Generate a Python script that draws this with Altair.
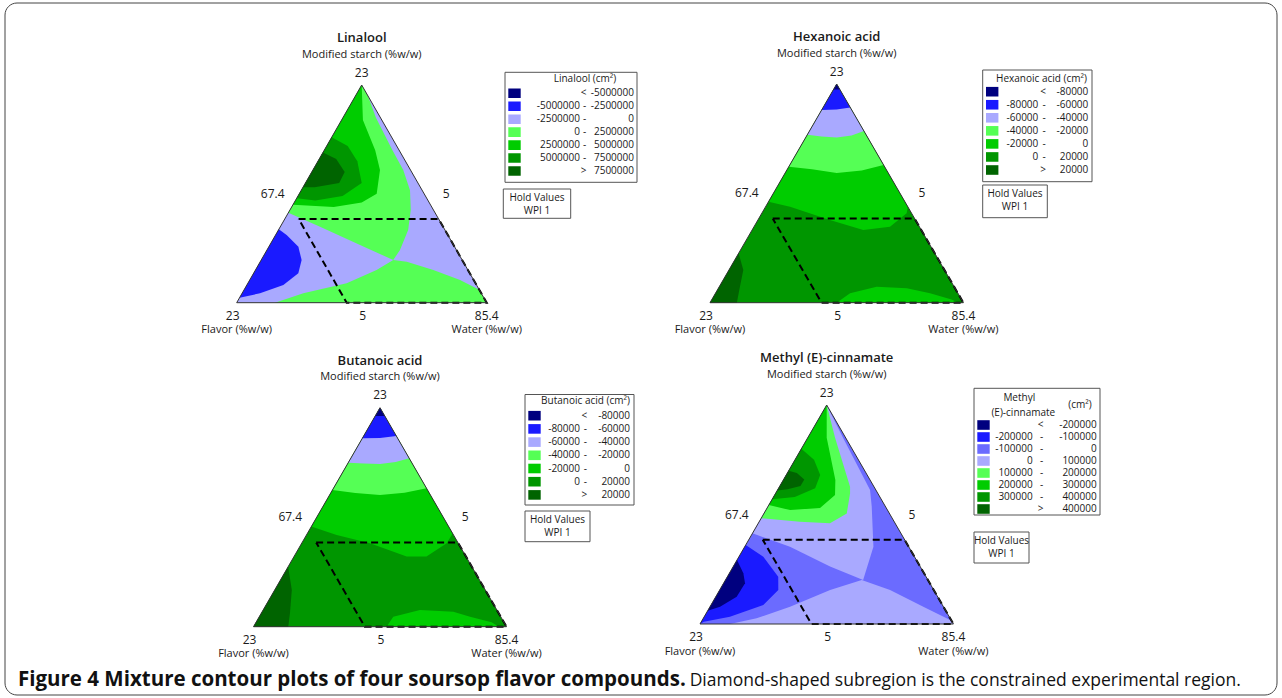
import altair as alt
import pandas as pd

W, H = 1282, 698
FONT = "Open Sans"

# contour band colours
BAND_COLORS = {
    "navy": "#00007f", "blue": "#1a1aff", "mblue": "#6b6bff", "lav": "#a9a9ff",
    "lgreen": "#55ff55", "green": "#00cc00", "mgreen": "#009600", "dgreen": "#006400",
}

# ternary panels: apex x, apex y, base y, half width of the base (px)
PANELS = {
    "lin": dict(cx=361.7, top=85.0, base=302.7, hw=125.0),
    "hex": dict(cx=836.7, top=84.0, base=302.7, hw=126.7),
    "but": dict(cx=380.0, top=407.7, base=626.7, hw=126.5),
    "met": dict(cx=826.7, top=405.0, base=624.0, hw=126.7),
}

TITLES = {"lin": "Linalool", "hex": "Hexanoic acid", "but": "Butanoic acid",
          "met": "Methyl (E)-cinnamate"}

# vertex / mid-side labels of every ternary frame
APEX_LABEL = "23"
LEFT_SIDE_LABEL = "67.4"
RIGHT_SIDE_LABEL = "5"
BASE_LEFT_LABEL = "23"
BASE_MID_LABEL = "5"
BASE_RIGHT_LABEL = "85.4"
TOP_AXIS = "Modified starch (%w/w)"
LEFT_AXIS = "Flavor (%w/w)"
RIGHT_AXIS = "Water (%w/w)"

# Contour bands.  Each point is (starch, water share): starch is the pseudo-component
# fraction of modified starch, water share is water / (water + flavor).
# The first entry of each list is the band filling the whole simplex, later bands are
# painted over it in order.
CONTOURS = {
    "lin": [
        ("lav", [(0, 0), (1, 0.5), (0, 1)]),
        ("lgreen", [(0.413, 0), (1, 0.5), (0.95, 1), (0.85, 0.88), (0.7, 0.91), (0.609, 0.925),
                    (0.517, 0.90), (0.426, 0.842), (0.334, 0.779), (0.242, 0.702), (0.196, 0.657),
                    (0.265, 0.491), (0.349, 0.244)]),
        ("lgreen", [(0.196, 0.657), (0.188, 0.722), (0.15, 0.837), (0.104, 0.939), (0.06, 1),
                    (0, 1), (0, 0.153), (0.043, 0.256), (0.089, 0.434), (0.15, 0.57)]),
        ("blue", [(0.337, 0), (0.311, 0.064), (0.257, 0.159), (0.196, 0.201), (0.135, 0.207),
                  (0.081, 0.159), (0.043, 0.075), (0.023, 0)]),
        ("green", [(0.45, 0), (0.44, 0.3), (0.46, 0.5), (0.5, 0.62), (0.609, 0.687), (0.7, 0.68),
                   (0.839, 0.53), (1, 0.5)]),
        ("mgreen", [(0.76, 0), (0.72, 0.3), (0.65, 0.45), (0.55, 0.5), (0.49, 0.35), (0.47, 0.15),
                    (0.48, 0)]),
        ("dgreen", [(0.69, 0), (0.66, 0.2), (0.6, 0.33), (0.55, 0.3), (0.53, 0.1), (0.53, 0)]),
    ],
    "hex": [
        ("mgreen", [(0, 0), (1, 0.5), (0, 1)]),
        ("green", [(0.462, 0), (0.439, 0.172), (0.378, 0.457), (0.332, 0.657), (0.347, 0.822),
                   (0.409, 0.967), (0.439, 1), (1, 0.5)]),
        ("lgreen", [(0.622, 0), (0.61, 0.25), (0.593, 0.5), (0.605, 0.75), (0.63, 1), (1, 0.5)]),
        ("lav", [(0.768, 0), (0.76, 0.25), (0.755, 0.5), (0.765, 0.75), (0.785, 1), (1, 0.5)]),
        ("blue", [(0.881, 0), (0.883, 0.5), (0.893, 1), (1, 0.5)]),
        ("navy", [(0.975, 0), (0.975, 1), (1, 0.5)]),
        ("green", [(0, 0.5), (0.043, 0.555), (0.073, 0.67), (0.066, 0.796), (0.043, 0.885),
                   (0.015, 0.96), (0, 0.98)]),
        ("dgreen", [(0.226, 0), (0.149, 0.067), (0.073, 0.088), (0, 0.106), (0, 0)]),
    ],
    "but": [
        ("mgreen", [(0, 0), (1, 0.5), (0, 1)]),
        ("green", [(0.457, 0), (0.419, 0.205), (0.381, 0.436), (0.32, 0.655), (0.32, 0.77),
                   (0.381, 0.926), (0.426, 1), (1, 0.5)]),
        ("lgreen", [(0.624, 0), (0.61, 0.25), (0.601, 0.5), (0.612, 0.75), (0.632, 1), (1, 0.5)]),
        ("lav", [(0.749, 0), (0.745, 0.25), (0.743, 0.5), (0.752, 0.75), (0.769, 1), (1, 0.5)]),
        ("blue", [(0.86, 0), (0.862, 0.5), (0.871, 1), (1, 0.5)]),
        ("navy", [(0.962, 0), (0.962, 1), (1, 0.5)]),
        ("green", [(0, 0.526), (0.046, 0.555), (0.076, 0.671), (0.068, 0.811), (0.046, 0.873),
                   (0.02, 0.95), (0, 0.97)]),
        ("dgreen", [(0.274, 0), (0.168, 0.081), (0.061, 0.121), (0, 0.1375), (0, 0)]),
    ],
    "met": [
        ("mblue", [(0, 0), (1, 0.5), (0, 1)]),
        ("lav", [(0.414, 0), (1, 0.5), (0.95, 0.93), (0.85, 0.93), (0.612, 0.941), (0.536, 0.883),
                 (0.353, 0.785), (0.201, 0.68), (0.262, 0.518), (0.353, 0.276)]),
        ("lav", [(0.201, 0.673), (0.155, 0.796), (0.079, 0.914), (0.018, 0.996), (0, 1),
                 (0, 0.118), (0.026, 0.216), (0.079, 0.343), (0.155, 0.516)]),
        ("blue", [(0.361, 0), (0.307, 0.139), (0.216, 0.256), (0.155, 0.274), (0.087, 0.226),
                  (0.033, 0.105), (0.0105, 0.01), (0, 0)]),
        ("navy", [(0.292, 0), (0.2315, 0.072), (0.186, 0.104), (0.125, 0.094), (0.079, 0.043),
                  (0.06, 0)]),
        ("lgreen", [(0.483, 0), (0.467, 0.302), (0.46, 0.524), (0.505, 0.66), (0.597, 0.729),
                    (0.627, 0.747), (0.85, 0.72), (1, 0.5)]),
        ("green", [(0.543, 0), (0.52, 0.2), (0.53, 0.444), (0.589, 0.58), (0.658, 0.6),
                   (0.85, 0.5), (1, 0.5)]),
        ("mgreen", [(0.8, 0), (0.75, 0.3), (0.68, 0.42), (0.62, 0.38), (0.58, 0.2), (0.57, 0)]),
        ("dgreen", [(0.7, 0), (0.69, 0.12), (0.66, 0.24), (0.63, 0.22), (0.615, 0.1), (0.61, 0)]),
    ],
}

# constrained experimental region, as (starch, flavor) fractions
SUBREGION = [(0.385, 0.56), (0.385, 0.0), (0.0, 0.0), (0.0, 0.56), (0.385, 0.56)]

# legends: band colours (low to high) and class limits
LEGEND_BANDS = {
    "lin": ["navy", "blue", "lav", "lgreen", "green", "mgreen", "dgreen"],
    "hex": ["navy", "blue", "lav", "lgreen", "green", "mgreen", "dgreen"],
    "but": ["navy", "blue", "lav", "lgreen", "green", "mgreen", "dgreen"],
    "met": ["navy", "blue", "mblue", "lav", "lgreen", "green", "mgreen", "dgreen"],
}
LEGEND_LIMITS = {
    "lin": [-5000000, -2500000, 0, 2500000, 5000000, 7500000],
    "hex": [-80000, -60000, -40000, -20000, 0, 20000],
    "but": [-80000, -60000, -40000, -20000, 0, 20000],
    "met": [-200000, -100000, 0, 100000, 200000, 300000, 400000],
}
LEGEND_TITLES = {
    "lin": ["Linalool (cm²)"], "hex": ["Hexanoic acid (cm²)"], "but": ["Butanoic acid (cm²)"],
    "met": ["Methyl", "(E)-cinnamate"],
}
HOLD_TEXT = ["Hold Values", "WPI  1"]

CAPTION_BOLD = "Figure 4 Mixture contour plots of four soursop flavor compounds."
CAPTION_REST = "Diamond-shaped subregion is the constrained experimental region."

# legend layout (px): box, first row, row step, column anchors, title anchors, hold box
LEGEND_LAYOUT = {
    "lin": dict(box=(505, 72.3, 637, 182.3), row0=93.3, step=12.95, left=580, dash=584.5,
                right=634, titles=[(585, 79)], hold=(503.3, 189, 570.7, 218.3)),
    "hex": dict(box=(982.7, 70, 1092, 181.7), row0=91.7, step=13.05, left=1038.3, dash=1044,
                right=1088.3, titles=[(1041.5, 79)], hold=(982.7, 185, 1047.3, 217.7)),
    "but": dict(box=(525, 394.5, 634, 505), row0=415.7, step=13.2, left=580, dash=585.3,
                right=630, titles=[(585.5, 401)], hold=(525, 511, 590, 541.7)),
    "met": dict(box=(974, 388.3, 1100, 515), row0=425, step=12.0, left=1032.7, dash=1041.7,
                right=1096.7, titles=[(1019.3, 398.3), (1023.3, 412.7)], unit=(1080, 405),
                hold=(974, 532, 1029, 563)),
}

# caption type sizes; the regular part follows the bold one on the same line
CAPTION_BOLD_SIZE = 20.5
CAPTION_REST_SIZE = 17.5
BOLD_EM_WIDTH = 32.47  # width of the bold caption in em of Open Sans Bold


def to_xy(p, starch, share):
    """Pixel position of a mixture point inside panel p."""
    width = 2 * p["hw"] * (1 - starch)
    x = p["cx"] - p["hw"] * (1 - starch) + width * share
    y = p["base"] - starch * (p["base"] - p["top"])
    return x, y


# ---------- polygons of the contour bands ----------
poly_rows = []
for key, regions in CONTOURS.items():
    p = PANELS[key]
    for rank, (band, pts) in enumerate(regions):
        for i, (s, u) in enumerate(pts):
            x, y = to_xy(p, s, u)
            poly_rows.append(dict(x=x, y=y, rid=f"{key}-{rank}", i=i, band=band, rank=rank))
polys = pd.DataFrame(poly_rows)

# triangle frames and dashed constrained region
frame_rows, sub_rows = [], []
for key, p in PANELS.items():
    for i, (s, u) in enumerate([(0, 0), (1, 0.5), (0, 1), (0, 0)]):
        x, y = to_xy(p, s, u)
        frame_rows.append(dict(x=x, y=y, rid=key, i=i))
    for i, (s, f) in enumerate(SUBREGION):
        share = 0.0 if s >= 1 else (1 - s - f) / (1 - s)
        x, y = to_xy(p, s, share)
        sub_rows.append(dict(x=x, y=y, rid=key, i=i))
frames = pd.DataFrame(frame_rows)
subs = pd.DataFrame(sub_rows)

# ---------- text ----------
title_rows, label_rows, axis_rows = [], [], []
for key, p in PANELS.items():
    cx, top, base, hw = p["cx"], p["top"], p["base"], p["hw"]
    mid_y = (top + base) / 2
    title_rows.append(dict(x=cx, y=top - 47, text=TITLES[key]))
    axis_rows.append(dict(x=cx, y=top - 30.5, text=TOP_AXIS))
    label_rows += [
        dict(x=cx, y=top - 12.5, text=APEX_LABEL),
        dict(x=(cx - hw + cx) / 2 - 26.5, y=mid_y, text=LEFT_SIDE_LABEL),
        dict(x=(cx + hw + cx) / 2 + 22, y=mid_y, text=RIGHT_SIDE_LABEL),
        dict(x=cx - hw - 4, y=base + 13, text=BASE_LEFT_LABEL),
        dict(x=cx + 1, y=base + 13, text=BASE_MID_LABEL),
        dict(x=cx + hw, y=base + 13, text=BASE_RIGHT_LABEL),
    ]
    axis_rows += [dict(x=cx - hw, y=base + 27.5, text=LEFT_AXIS),
                  dict(x=cx + hw, y=base + 27.5, text=RIGHT_AXIS)]

# ---------- legends ----------
box_rows, swatch_rows = [], []
leg_center, leg_right = [], []
for key, lay in LEGEND_LAYOUT.items():
    x0, y0, x1, y1 = lay["box"]
    box_rows.append(dict(x=x0, x2=x1, y=y0, y2=y1))
    hx0, hy0, hx1, hy1 = lay["hold"]
    box_rows.append(dict(x=hx0, x2=hx1, y=hy0, y2=hy1))
    hc = (hx0 + hx1) / 2
    leg_center.append(dict(x=hc, y=hy0 + 8.7, text=HOLD_TEXT[0]))
    leg_center.append(dict(x=hc, y=hy0 + 21.7, text=HOLD_TEXT[1]))
    for (tx, ty), t in zip(lay["titles"], LEGEND_TITLES[key]):
        leg_center.append(dict(x=tx, y=ty, text=t))
    if "unit" in lay:
        leg_center.append(dict(x=lay["unit"][0], y=lay["unit"][1], text="(cm²)"))
    lims = LEGEND_LIMITS[key]
    for j, band in enumerate(LEGEND_BANDS[key]):
        ry = lay["row0"] + j * lay["step"]
        swatch_rows.append(dict(x=x0 + 3.3, x2=x0 + 15.7, y=ry - 4.8, y2=ry + 4.8, band=band))
        if j == 0:
            leg_center.append(dict(x=lay["dash"] - 1, y=ry, text="<"))
            leg_right.append(dict(x=lay["right"], y=ry, text=str(lims[0])))
        elif j == len(lims):
            leg_center.append(dict(x=lay["dash"] - 1, y=ry, text=">"))
            leg_right.append(dict(x=lay["right"], y=ry, text=str(lims[-1])))
        else:
            leg_right.append(dict(x=lay["left"], y=ry, text=str(lims[j - 1])))
            leg_center.append(dict(x=lay["dash"], y=ry, text="-"))
            leg_right.append(dict(x=lay["right"], y=ry, text=str(lims[j])))

# ---------- shared encodings ----------
X = alt.X("x:Q", scale=alt.Scale(domain=[0, W], nice=False, zero=False), axis=None)
Y = alt.Y("y:Q", scale=alt.Scale(domain=[0, H], nice=False, zero=False, reverse=True), axis=None)
COLOR = alt.Color("band:N", scale=alt.Scale(domain=list(BAND_COLORS),
                                            range=list(BAND_COLORS.values())), legend=None)

layers = []
for r in range(int(polys["rank"].max()) + 1):
    layers.append(
        alt.Chart(polys).transform_filter(alt.datum.rank == r)
        .mark_line(filled=True, strokeWidth=0, interpolate="linear")
        .encode(x=X, y=Y, color=COLOR, detail="rid:N", order="i:Q")
    )

layers.append(
    alt.Chart(subs).mark_line(color="black", strokeWidth=2, strokeDash=[7, 4])
    .encode(x=X, y=Y, detail="rid:N", order="i:Q")
)
layers.append(
    alt.Chart(frames).mark_line(color="#333333", strokeWidth=1)
    .encode(x=X, y=Y, detail="rid:N", order="i:Q")
)

boxes = pd.DataFrame(box_rows)
layers.append(
    alt.Chart(boxes).mark_rect(fill="white", stroke="#555555", strokeWidth=1)
    .encode(x=X, x2="x2:Q", y=Y, y2="y2:Q")
)
layers.append(
    alt.Chart(pd.DataFrame(swatch_rows)).mark_rect()
    .encode(x=X, x2="x2:Q", y=Y, y2="y2:Q", color=COLOR)
)


def text_layer(rows, size, weight="normal", align="center", color="#1a1a1a"):
    return alt.Chart(pd.DataFrame(rows)).mark_text(
        font=FONT, fontSize=size, fontWeight=weight, align=align, baseline="middle", color=color
    ).encode(x=X, y=Y, text="text:N")


layers += [
    text_layer(title_rows, 13, weight=600),
    text_layer(axis_rows, 11),
    text_layer(label_rows, 12),
    text_layer(leg_center, 10),
    text_layer(leg_right, 10, align="right"),
]

# outer frame and caption
layers.append(
    alt.Chart(pd.DataFrame([dict(x=5, x2=1277, y=3, y2=695)]))
    .mark_rect(fill=None, stroke="#444444", strokeWidth=1, cornerRadius=12)
    .encode(x=X, x2="x2:Q", y=Y, y2="y2:Q")
)
cap_x = 18
rest_x = cap_x + BOLD_EM_WIDTH * CAPTION_BOLD_SIZE + 6
layers.append(text_layer([dict(x=cap_x, y=680, text=CAPTION_BOLD)], CAPTION_BOLD_SIZE,
                         weight="bold", align="left", color="#111111"))
layers.append(text_layer([dict(x=rest_x, y=680.5, text=CAPTION_REST)], CAPTION_REST_SIZE,
                         align="left", color="#111111"))

chart = alt.layer(*layers).properties(
    width=W, height=H, padding=0, autosize=alt.AutoSizeParams(type="none")
).configure_view(stroke=None)

chart.save("out.html", embed_options={"renderer": "svg", "actions": False})
